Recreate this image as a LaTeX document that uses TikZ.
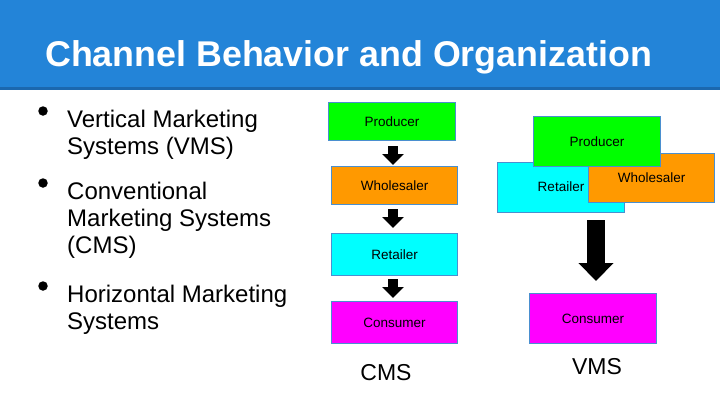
\documentclass[tikz,border=0pt]{standalone}
\usepackage{fontspec}
\setmainfont{Liberation Sans}
\usetikzlibrary{arrows.meta}
\definecolor{bandblue}{HTML}{2384D8}
\definecolor{banddark}{HTML}{1B68AF}
\definecolor{boxborder}{HTML}{4A8FCF}
\definecolor{cgreen}{HTML}{00FF00}
\definecolor{corange}{HTML}{FF9900}
\definecolor{ccyan}{HTML}{00FFFF}
\definecolor{cmagenta}{HTML}{FF00FF}
\newcommand\boxfont{\fontsize{13.5}{16}\selectfont}
\newcommand\bulfont{\fontsize{24}{27}\selectfont}
\tikzset{
  chbox/.style={draw=boxborder, line width=1.2pt, inner sep=0pt, anchor=north west, font=\boxfont, text=black},
  bline/.style={anchor=base west, inner sep=0pt, font=\bulfont},
  bdot/.style={circle, fill=black, inner sep=0pt, minimum size=9.5pt},
  smallarrow/.style={line width=10pt, black, -{Triangle[width=21pt,length=11pt]}},
  bigarrow/.style={line width=18pt, black, -{Triangle[width=34pt,length=18pt]}},
  syslabel/.style={anchor=base, inner sep=0pt, font=\fontsize{23}{26}\selectfont}
}
\begin{document}
\begin{tikzpicture}[x=1pt,y=-1pt]
\useasboundingbox (0,0) rectangle (720,405);
\fill[white] (0,0) rectangle (720,405);
% title band
\fill[bandblue] (0,0) rectangle (720,87);
\fill[banddark] (0,87) rectangle (720,90);
\node[anchor=base west, inner sep=0pt, text=white, font=\fontsize{35.8}{40}\selectfont\bfseries] (title) at (45,66.7) {Channel Behavior and Organization};
% bullets
\node[bdot] (d1) at (43,111) {};
\node[bline] (b1a) at (67,127) {Vertical Marketing};
\node[bline] (b1b) at (67,154) {Systems (VMS)};
\node[bdot] (d2) at (43,183) {};
\node[bline] (b2a) at (67,199) {Conventional};
\node[bline] (b2b) at (67,226) {Marketing Systems};
\node[bline] (b2c) at (67,253) {(CMS)};
\node[bdot] (d3) at (43,286) {};
\node[bline] (b3a) at (67,302) {Horizontal Marketing};
\node[bline] (b3b) at (67,329) {Systems};
% CMS column
\node[chbox, fill=cgreen, minimum width=127pt, minimum height=38pt] (cp) at (328,102) {Producer};
\node[chbox, fill=corange, minimum width=126pt, minimum height=38pt] (cw) at (331,166) {Wholesaler};
\node[chbox, fill=ccyan, minimum width=126pt, minimum height=42pt] (cr) at (331,233) {Retailer};
\node[chbox, fill=cmagenta, minimum width=126pt, minimum height=42pt] (cc) at (331,301) {Consumer};
\draw[smallarrow, shorten <=5pt, shorten >=1pt] (cp.south -| 393,0) -- (cw.north -| 393,0);
\draw[smallarrow, shorten <=4pt, shorten >=5pt] (cw.south -| 393,0) -- (cr.north -| 393,0);
\draw[smallarrow, shorten <=3pt, shorten >=3pt] (cr.south -| 393,0) -- (cc.north -| 393,0);
\node[syslabel] (cms) at (386,380) {CMS};
% VMS cluster
\node[chbox, fill=ccyan, minimum width=127pt, minimum height=50pt] (vr) at (497,162) {};
\node[anchor=center, inner sep=0pt, font=\boxfont] (vrt) at (561,187) {Retailer};
\node[chbox, fill=corange, minimum width=126pt, minimum height=49pt] (vw) at (588,153) {Wholesaler};
\node[chbox, fill=cgreen, minimum width=127pt, minimum height=50pt] (vp) at (533,116) {Producer};
\node[chbox, fill=cmagenta, minimum width=127pt, minimum height=50pt] (vc) at (529,293) {Consumer};
\coordinate (vtop) at (596,220);
\draw[bigarrow, shorten >=12pt] (vtop) -- (vc.north -| vtop);
\node[syslabel] (vms) at (597,374) {VMS};
\end{tikzpicture}
\end{document}
